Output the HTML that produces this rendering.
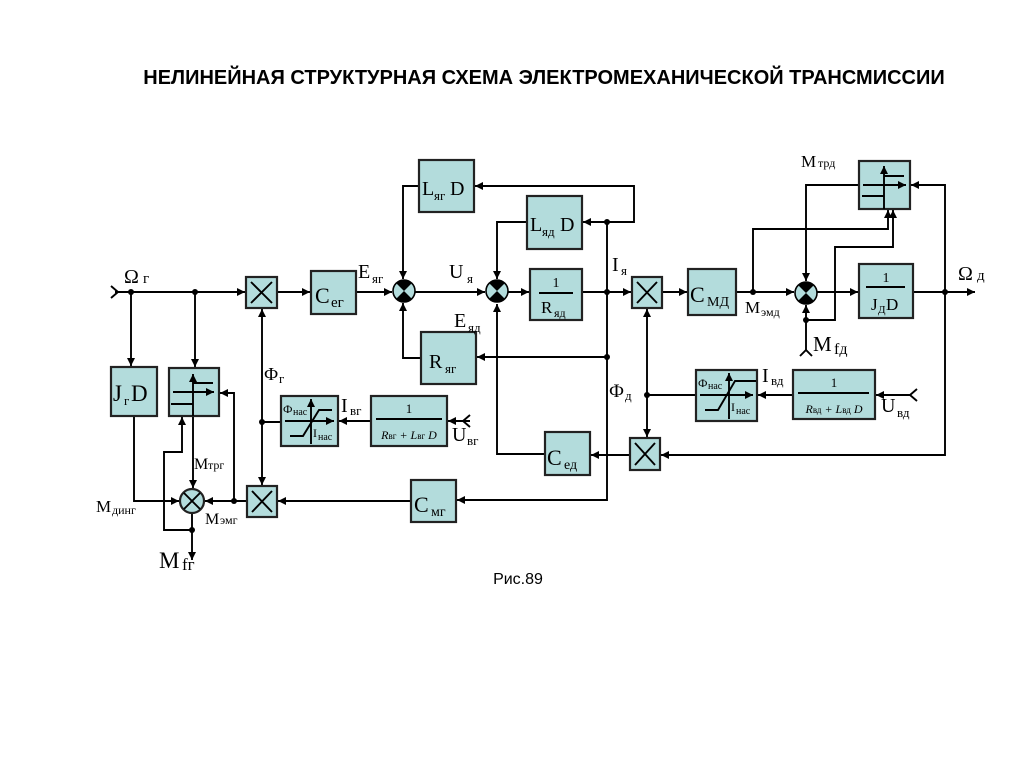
<!DOCTYPE html>
<html><head><meta charset="utf-8"><style>
html,body{margin:0;padding:0;background:#fff;}
svg{display:block;}
text{font-family:"Liberation Serif",serif;fill:#000;}
.b{fill:#b3dcdc;stroke:#222;stroke-width:2.2;}
.l{stroke:#000;stroke-width:1.9;fill:none;}
.t{font-family:"Liberation Sans",sans-serif;font-weight:bold;font-size:20px;}
</style></head><body>
<svg width="1024" height="767" viewBox="0 0 1024 767" xmlns="http://www.w3.org/2000/svg">
<defs>
<marker id="a" viewBox="0 0 10 10" refX="10" refY="5" markerWidth="8" markerHeight="8" orient="auto-start-reverse" markerUnits="userSpaceOnUse"><path d="M0,0 L10,5 L0,10 z" fill="#000"/></marker>
</defs>
<text x="544" y="84" text-anchor="middle" class="t">НЕЛИНЕЙНАЯ СТРУКТУРНАЯ СХЕМА ЭЛЕКТРОМЕХАНИЧЕСКОЙ ТРАНСМИССИИ</text>
<text x="518" y="584" text-anchor="middle" style="font-family:'Liberation Sans',sans-serif;font-size:16px">Рис.89</text>

<g class="l">
<path d="M115,292 H245" marker-end="url(#a)"/>
<path d="M131,292 V366" marker-end="url(#a)"/>
<path d="M195,292 V367" marker-end="url(#a)"/>
<path d="M277,292 H310" marker-end="url(#a)"/>
<path d="M356,292 H392" marker-end="url(#a)"/>
<path d="M415,292 H485" marker-end="url(#a)"/>
<path d="M508,292 H529" marker-end="url(#a)"/>
<path d="M582,292 H631" marker-end="url(#a)"/>
<path d="M607,222 V500 H457" marker-end="url(#a)"/>
<path d="M607,222 H583" marker-end="url(#a)"/>
<path d="M607,222 H634 V186 H475" marker-end="url(#a)"/>
<path d="M527,222 H497 V279" marker-end="url(#a)"/>
<path d="M419,186 H403 V279" marker-end="url(#a)"/>
<path d="M607,357 H477" marker-end="url(#a)"/>
<path d="M421,358 H403 V303" marker-end="url(#a)"/>
<path d="M545,454 H497 V304" marker-end="url(#a)"/>
<path d="M411,501 H278" marker-end="url(#a)"/>
<path d="M247,501 H205" marker-end="url(#a)"/>
<path d="M234,501 V393 H220" marker-end="url(#a)"/>
<path d="M193,416 V488" marker-end="url(#a)"/>
<path d="M134,416 V501 H179" marker-end="url(#a)"/>
<path d="M192,513 V560" marker-end="url(#a)"/>
<path d="M192,530 H164 V452 H182 V417" marker-end="url(#a)"/>
<path d="M262,422 V309" marker-end="url(#a)"/>
<path d="M262,422 V485" marker-end="url(#a)"/>
<path d="M262,422 H281"/>
<path d="M371,421 H339" marker-end="url(#a)"/>
<path d="M470,421 H448" marker-end="url(#a)"/>
<path d="M662,292 H687" marker-end="url(#a)"/>
<path d="M736,292 H794" marker-end="url(#a)"/>
<path d="M753,292 V229 H888 V210" marker-end="url(#a)"/>
<path d="M806,320 H835 V247 H893 V210" marker-end="url(#a)"/>
<path d="M806,350 V305" marker-end="url(#a)"/>
<path d="M859,185 H806 V281" marker-end="url(#a)"/>
<path d="M817,292 H858" marker-end="url(#a)"/>
<path d="M913,292 H975" marker-end="url(#a)"/>
<path d="M945,292 V185 H911" marker-end="url(#a)"/>
<path d="M945,292 V455 H661" marker-end="url(#a)"/>
<path d="M630,455 H591" marker-end="url(#a)"/>
<path d="M647,395 V309" marker-end="url(#a)"/>
<path d="M647,395 V437" marker-end="url(#a)"/>
<path d="M647,395 H696"/>
<path d="M793,395 H758" marker-end="url(#a)"/>
<path d="M910,395 H876" marker-end="url(#a)"/>
<path d="M111,286 L118,292 L111,298"/>
<path d="M470,415 L463,421 L470,427"/>
<path d="M917,389 L910,395 L917,401"/>
<path d="M800,356 L806,350 L812,356"/>
</g>
<g fill="#000">
<circle cx="131" cy="292" r="3"/><circle cx="195" cy="292" r="3"/>
<circle cx="607" cy="292" r="3"/><circle cx="607" cy="222" r="3"/><circle cx="607" cy="357" r="3"/>
<circle cx="234" cy="501" r="3"/><circle cx="192" cy="530" r="3"/><circle cx="262" cy="422" r="3"/>
<circle cx="753" cy="292" r="3"/><circle cx="806" cy="320" r="3"/><circle cx="945" cy="292" r="3"/>
<circle cx="647" cy="395" r="3"/>
</g>

<rect class="b" x="419" y="160" width="55" height="52"/>
<text x="422" y="195" font-size="20">L</text><text x="434" y="200" font-size="13">яг</text><text x="450" y="195" font-size="20">D</text>
<rect class="b" x="527" y="196" width="55" height="53"/>
<text x="530" y="231" font-size="20">L</text><text x="542" y="236" font-size="13">яд</text><text x="560" y="231" font-size="20">D</text>
<rect class="b" x="530" y="269" width="52" height="51"/>
<text x="556" y="287" font-size="14" text-anchor="middle">1</text><path class="l" d="M539,293 H573"/>
<text x="541" y="313" font-size="17">R</text><text x="554" y="317" font-size="12">яд</text>
<rect class="b" x="421" y="332" width="55" height="52"/>
<text x="429" y="368" font-size="20">R</text><text x="445" y="373" font-size="13">яг</text>
<rect class="b" x="311" y="271" width="45" height="43"/>
<text x="315" y="303" font-size="22">C</text><text x="331" y="307" font-size="15">ег</text>
<rect class="b" x="111" y="367" width="46" height="49"/>
<text x="113" y="401" font-size="23">J</text><text x="124" y="405" font-size="13">г</text><text x="131" y="401" font-size="23">D</text>
<rect class="b" x="169" y="368" width="50" height="48"/>
<g class="l"><path d="M193,416 V374" marker-end="url(#a)"/><path d="M173,392 H214" marker-end="url(#a)"/><path d="M193,383 H213"/><path d="M171,404 H193"/></g>
<rect class="b" x="281" y="396" width="57" height="50"/>
<g class="l"><path d="M311,444 V399" marker-end="url(#a)"/><path d="M285,421 H334" marker-end="url(#a)"/><path d="M290,436 H303 L319,410 H332"/></g>
<text x="283" y="413" font-size="12">Ф</text><text x="293" y="415" font-size="10">нас</text>
<text x="313" y="437" font-size="12">I</text><text x="318" y="440" font-size="10">нас</text>
<rect class="b" x="371" y="396" width="76" height="50"/>
<text x="409" y="413" font-size="13" text-anchor="middle">1</text><path class="l" d="M376,419 H442"/>
<text x="409" y="439" font-size="12" text-anchor="middle" font-style="italic">R<tspan font-size="9" font-style="normal">вг</tspan> + L<tspan font-size="9" font-style="normal">вг</tspan> D</text>
<rect class="b" x="411" y="480" width="45" height="42"/>
<text x="414" y="512" font-size="22">C</text><text x="431" y="516" font-size="14">мг</text>
<rect class="b" x="688" y="269" width="48" height="46"/>
<text x="690" y="302" font-size="22">C</text><text x="707" y="306" font-size="14">МД</text>
<rect class="b" x="859" y="264" width="54" height="54"/>
<text x="886" y="282" font-size="14" text-anchor="middle">1</text><path class="l" d="M866,287 H905"/>
<text x="871" y="310" font-size="17">J</text><text x="878" y="313" font-size="11">Д</text><text x="886" y="310" font-size="17">D</text>
<rect class="b" x="859" y="161" width="51" height="48"/>
<g class="l"><path d="M884,209 V166" marker-end="url(#a)"/><path d="M863,185 H906" marker-end="url(#a)"/><path d="M884,176 H904"/><path d="M862,196 H884"/></g>
<rect class="b" x="696" y="370" width="61" height="51"/>
<g class="l"><path d="M729,419 V373" marker-end="url(#a)"/><path d="M700,395 H753" marker-end="url(#a)"/><path d="M705,410 H718 L735,381 H756"/></g>
<text x="698" y="387" font-size="12">Ф</text><text x="708" y="389" font-size="10">нас</text>
<text x="731" y="411" font-size="12">I</text><text x="736" y="414" font-size="10">нас</text>
<rect class="b" x="793" y="370" width="82" height="49"/>
<text x="834" y="387" font-size="13" text-anchor="middle">1</text><path class="l" d="M798,393 H869"/>
<text x="834" y="413" font-size="12" text-anchor="middle" font-style="italic">R<tspan font-size="9" font-style="normal">вд</tspan> + L<tspan font-size="9" font-style="normal">вд</tspan> D</text>
<rect class="b" x="545" y="432" width="45" height="43"/>
<text x="547" y="465" font-size="22">C</text><text x="564" y="469" font-size="14">ед</text>

<g>
<rect class="b" x="246" y="277" width="31" height="31"/><path class="l" stroke-width="2" d="M251,282 L272,303 M272,282 L251,303"/>
<rect class="b" x="247" y="486" width="30" height="31"/><path class="l" stroke-width="2" d="M252,491 L272,512 M272,491 L252,512"/>
<rect class="b" x="632" y="277" width="30" height="31"/><path class="l" stroke-width="2" d="M637,282 L657,303 M657,282 L637,303"/>
<rect class="b" x="630" y="438" width="30" height="32"/><path class="l" stroke-width="2" d="M635,443 L655,465 M655,443 L635,465"/>
</g>

<g>
<circle cx="192" cy="501" r="12" class="b" stroke-width="1.6"/><path class="l" d="M184,493 L200,509 M200,493 L184,509"/>
<circle cx="404" cy="291" r="11" fill="#b3dcdc" stroke="#000" stroke-width="1.6"/><path d="M404,291 L396,283 A11,11 0 0 1 412,283 Z M404,291 L396,299 A11,11 0 0 0 412,299 Z" fill="#000"/>
<circle cx="497" cy="291" r="11" fill="#b3dcdc" stroke="#000" stroke-width="1.6"/><path d="M497,291 L489,283 A11,11 0 0 1 505,283 Z M497,291 L489,299 A11,11 0 0 0 505,299 Z" fill="#000"/>
<circle cx="806" cy="293" r="11" fill="#b3dcdc" stroke="#000" stroke-width="1.6"/><path d="M806,293 L798,285 A11,11 0 0 1 814,285 Z M806,293 L798,301 A11,11 0 0 0 814,301 Z" fill="#000"/>
</g>

<text x="124" y="283" font-size="20">Ω</text><text x="143" y="283" font-size="15">г</text>
<text x="358" y="278" font-size="20">E</text><text x="372" y="283" font-size="13">яг</text>
<text x="449" y="278" font-size="20">U</text><text x="467" y="283" font-size="13">я</text>
<text x="454" y="327" font-size="20">E</text><text x="468" y="332" font-size="13">яд</text>
<text x="612" y="271" font-size="20">I</text><text x="621" y="275" font-size="13">я</text>
<text x="264" y="380" font-size="18">Ф</text><text x="279" y="383" font-size="13">г</text>
<text x="341" y="412" font-size="20">I</text><text x="350" y="415" font-size="13">вг</text>
<text x="452" y="441" font-size="20">U</text><text x="467" y="445" font-size="13">вг</text>
<text x="194" y="469" font-size="16">М</text><text x="208" y="469" font-size="12">трг</text>
<text x="96" y="512" font-size="17">М</text><text x="112" y="514" font-size="12">динг</text>
<text x="205" y="524" font-size="16">М</text><text x="220" y="524" font-size="12">эмг</text>
<text x="159" y="568" font-size="23">M</text><text x="182" y="570" font-size="17">fг</text>
<text x="745" y="313" font-size="17">М</text><text x="761" y="316" font-size="12">эмд</text>
<text x="813" y="351" font-size="21">M</text><text x="834" y="354" font-size="16">fд</text>
<text x="801" y="167" font-size="17">М</text><text x="818" y="167" font-size="12">трд</text>
<text x="958" y="280" font-size="20">Ω</text><text x="977" y="280" font-size="15">д</text>
<text x="762" y="382" font-size="20">I</text><text x="771" y="385" font-size="13">вд</text>
<text x="881" y="412" font-size="20">U</text><text x="897" y="417" font-size="13">вд</text>
<text x="609" y="397" font-size="19">Ф</text><text x="625" y="400" font-size="13">д</text>
</svg>
</body></html>
